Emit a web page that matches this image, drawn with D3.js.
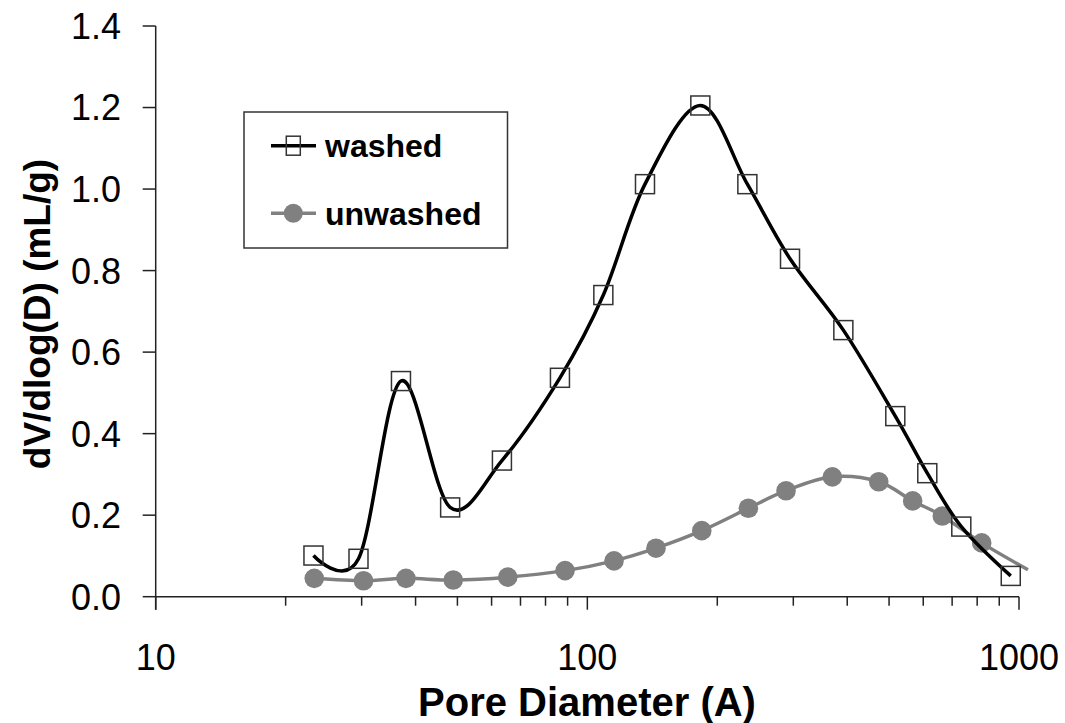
<!DOCTYPE html>
<html>
<head>
<meta charset="utf-8">
<script src="https://cdn.jsdelivr.net/npm/d3@7"></script>
<style>
  body { margin: 0; background: #fff; }
  text { font-family: "Liberation Sans", Arial, sans-serif; }
</style>
</head>
<body>
<svg></svg>
<script>
const width = 1065,
  height = 723

// pore diameter (A) and dV/dlog(D) (mL/g)
const washedD = [23.2, 29.5, 37.0, 48.1, 63.4, 86.4, 108.9, 136.0, 182.7, 234.8, 294.8, 391.8, 516.9, 613.1, 735.1, 957]
const washedV = [0.101, 0.093, 0.529, 0.219, 0.334, 0.537, 0.740, 1.012, 1.205, 1.012, 0.829, 0.654, 0.443, 0.303, 0.172, 0.051]
const unwashedD = [23.3, 30.3, 38.0, 48.9, 65.4, 88.8, 115.3, 144.2, 184.1, 236.1, 288.6, 369.5, 473.2, 567.1, 664.3, 819.6, 1049]
const unwashedV = [0.045, 0.039, 0.045, 0.041, 0.048, 0.064, 0.088, 0.119, 0.162, 0.217, 0.260, 0.294, 0.282, 0.235, 0.198, 0.132, 0.066]
const yTicks = [0, 0.2, 0.4, 0.6, 0.8, 1.0, 1.2, 1.4]
const xTicks = [10, 100, 1000]
const minorTicks = [20, 30, 40, 50, 60, 70, 80, 90, 200, 300, 400, 500, 600, 700, 800, 900]
const legendLabels = ["washed", "unwashed"]

const x = d3.scaleLog().domain([10, 1000]).range([155.7, 1019])
const y = d3.scaleLinear().domain([0, 1.4]).range([596.7, 26])

const svg = d3.select("svg").attr("width", width).attr("height", height)

const washed = washedD.map((d, i) => ({ d: d, v: washedV[i] }))
const unwashed = unwashedD.map((d, i) => ({ d: d, v: unwashedV[i] }))

// axes
const axis = svg.append("g").attr("stroke", "#222").attr("stroke-width", 1.5)
axis.append("line").attr("x1", x(10)).attr("x2", x(1000)).attr("y1", y(0)).attr("y2", y(0))
axis.append("line").attr("x1", x(10)).attr("x2", x(10)).attr("y1", y(1.4)).attr("y2", y(0) + 13)
axis.selectAll(".ytick").data(yTicks).join("line")
  .attr("x1", x(10) - 13).attr("x2", x(10))
  .attr("y1", d => y(d)).attr("y2", d => y(d))
axis.selectAll(".xmajor").data(xTicks).join("line")
  .attr("x1", d => x(d)).attr("x2", d => x(d))
  .attr("y1", y(0)).attr("y2", y(0) + 13)
axis.selectAll(".xminor").data(minorTicks).join("line")
  .attr("x1", d => x(d)).attr("x2", d => x(d))
  .attr("y1", y(0)).attr("y2", y(0) + 9)

svg.selectAll(".ylab").data(yTicks).join("text")
  .attr("x", 121).attr("y", d => y(d)).attr("dy", "0.36em")
  .attr("text-anchor", "end").attr("font-size", 36)
  .text(d => d.toFixed(1))

svg.selectAll(".xlab").data(xTicks).join("text")
  .attr("x", d => x(d)).attr("y", 670)
  .attr("text-anchor", "middle").attr("font-size", 36)
  .text(d => d)

svg.append("text")
  .attr("x", 587).attr("y", 716)
  .attr("text-anchor", "middle").attr("font-size", 40).attr("font-weight", "bold")
  .text("Pore Diameter (A)")

svg.append("text")
  .attr("transform", "translate(50,314) rotate(-90)")
  .attr("text-anchor", "middle").attr("font-size", 37).attr("font-weight", "bold")
  .text("dV/dlog(D) (mL/g)")

// series, smoothed like the spreadsheet
const line = d3.line()
  .x(p => x(p.d))
  .y(p => y(p.v))
  .curve(d3.curveCardinal.tension(0))

svg.append("path").datum(unwashed)
  .attr("d", line).attr("fill", "none")
  .attr("stroke", "#808080").attr("stroke-width", 3.5)

// the last point lies past the axis end: line only, no marker
svg.selectAll(".dot").data(unwashed.filter(p => p.d <= 1000)).join("circle")
  .attr("cx", p => x(p.d)).attr("cy", p => y(p.v)).attr("r", 9.8)
  .attr("fill", "#808080")

svg.append("path").datum(washed)
  .attr("d", line).attr("fill", "none")
  .attr("stroke", "#000").attr("stroke-width", 3.5)

svg.selectAll(".sq").data(washed).join("rect")
  .attr("x", p => x(p.d) - 9.5).attr("y", p => y(p.v) - 9.5)
  .attr("width", 19).attr("height", 19)
  .attr("fill", "none").attr("stroke", "#333").attr("stroke-width", 1.5)

// legend
const lg = svg.append("g")
lg.append("rect").attr("x", 244).attr("y", 112).attr("width", 263.5).attr("height", 136)
  .attr("fill", "#fff").attr("stroke", "#333").attr("stroke-width", 1.5)

const rows = [145.7, 213.3]
lg.append("line").attr("x1", 271).attr("x2", 316).attr("y1", rows[0]).attr("y2", rows[0])
  .attr("stroke", "#000").attr("stroke-width", 3.5)
lg.append("rect").attr("x", 293.3 - 7).attr("y", rows[0] - 9.5).attr("width", 14).attr("height", 19)
  .attr("fill", "none").attr("stroke", "#333").attr("stroke-width", 1.5)
lg.append("line").attr("x1", 271).attr("x2", 316).attr("y1", rows[1]).attr("y2", rows[1])
  .attr("stroke", "#808080").attr("stroke-width", 3.5)
lg.append("circle").attr("cx", 293.3).attr("cy", rows[1]).attr("r", 9.5).attr("fill", "#808080")

lg.selectAll(".lt").data(legendLabels).join("text")
  .attr("x", 325).attr("y", (d, i) => rows[i] + 11.5)
  .attr("font-size", 32).attr("font-weight", "bold")
  .text(d => d)
</script>
</body>
</html>
